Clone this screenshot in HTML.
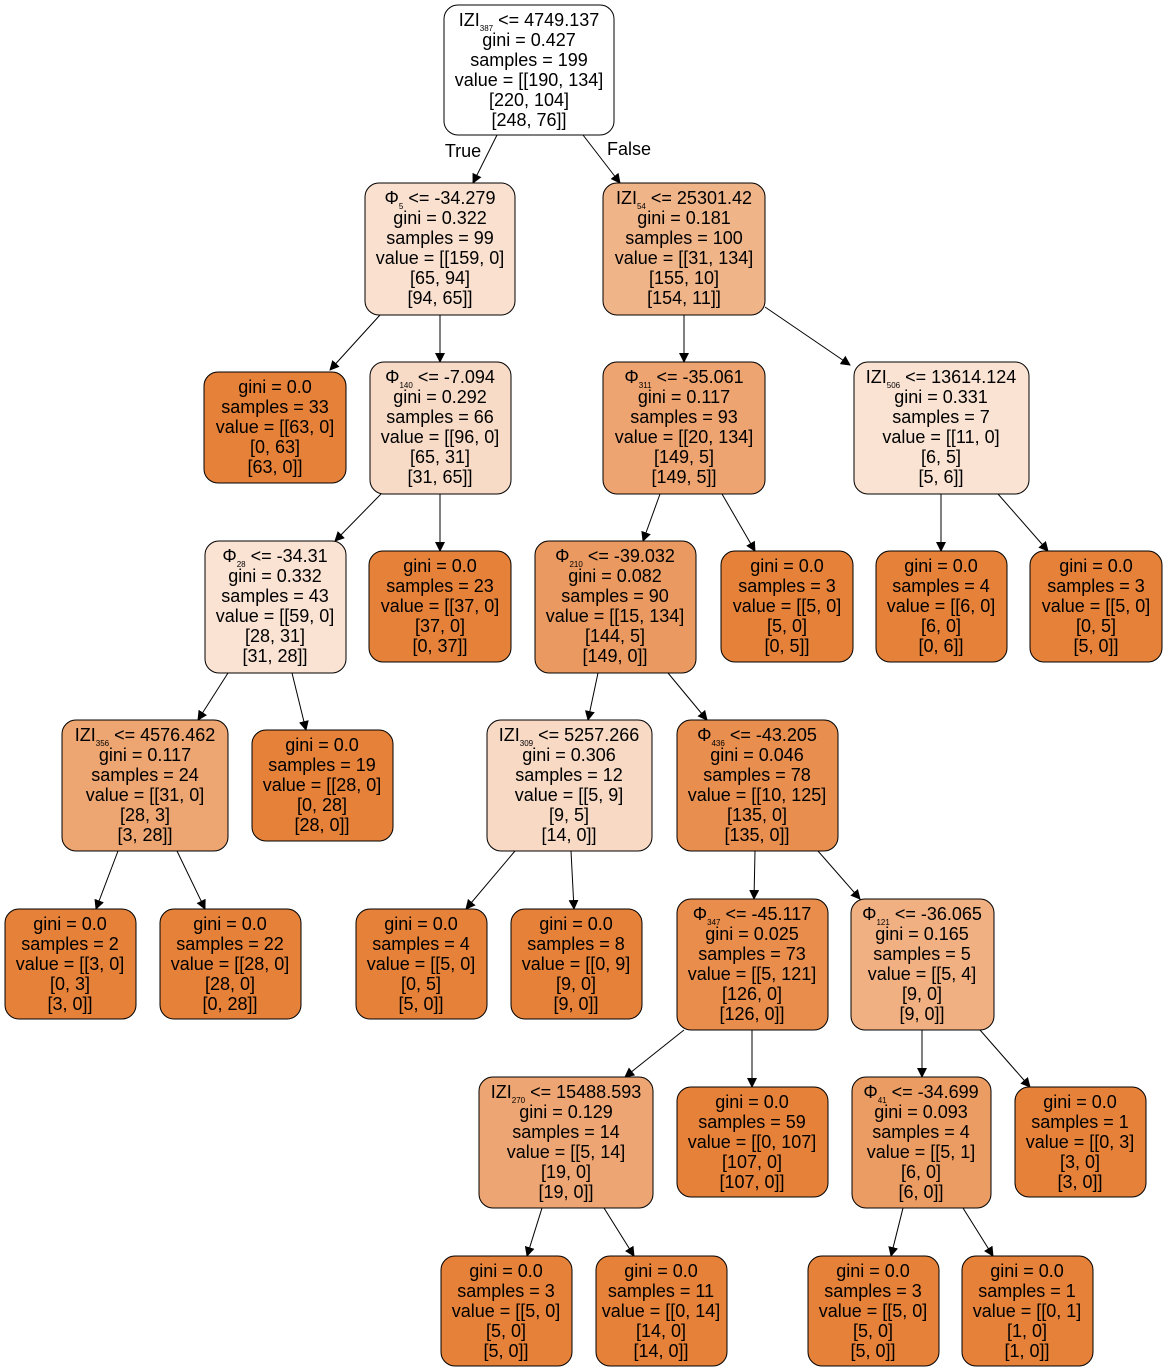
<!DOCTYPE html>
<html><head><meta charset="utf-8"><style>
html,body{margin:0;padding:0;background:#fff;}
svg{display:block;}
text{font-family:"Liberation Sans",Arial,sans-serif;font-size:18px;fill:#000;text-anchor:middle;}
.s{font-size:8px;}
rect{stroke:#000;stroke-width:1;}
line{stroke:#000;stroke-width:1;}
</style></head><body>
<svg width="1167" height="1372" viewBox="0 0 1167 1372" xmlns="http://www.w3.org/2000/svg">
<defs><marker id="a" markerWidth="10" markerHeight="10" refX="9" refY="5" orient="auto" markerUnits="userSpaceOnUse"><path d="M0,0 L10,5 L0,10 z" fill="#000"/></marker></defs>

<g marker-end="url(#a)">
<line x1="497" y1="135" x2="473" y2="183"/>
<line x1="583" y1="135" x2="620" y2="183"/>
<line x1="380" y1="315" x2="330" y2="370"/>
<line x1="440" y1="315" x2="440" y2="362"/>
<line x1="684" y1="315" x2="684" y2="362"/>
<line x1="765" y1="307" x2="850" y2="365"/>
<line x1="381" y1="494" x2="335" y2="541"/>
<line x1="440" y1="494" x2="440" y2="551"/>
<line x1="660" y1="494" x2="643" y2="541"/>
<line x1="722" y1="494" x2="755" y2="551"/>
<line x1="941" y1="494" x2="941" y2="551"/>
<line x1="998" y1="494" x2="1048" y2="551"/>
<line x1="228" y1="673" x2="198" y2="720"/>
<line x1="292" y1="673" x2="306" y2="730"/>
<line x1="598" y1="673" x2="588" y2="720"/>
<line x1="668" y1="673" x2="707" y2="720"/>
<line x1="118" y1="851" x2="96" y2="909"/>
<line x1="177" y1="851" x2="205" y2="909"/>
<line x1="515" y1="851" x2="466" y2="909"/>
<line x1="571" y1="851" x2="574" y2="909"/>
<line x1="755" y1="851" x2="754" y2="899"/>
<line x1="818" y1="851" x2="860" y2="899"/>
<line x1="684" y1="1030" x2="625" y2="1077"/>
<line x1="752" y1="1030" x2="752" y2="1087"/>
<line x1="922" y1="1030" x2="922" y2="1077"/>
<line x1="980" y1="1030" x2="1030" y2="1087"/>
<line x1="542" y1="1208" x2="527" y2="1256"/>
<line x1="604" y1="1208" x2="634" y2="1256"/>
<line x1="903" y1="1208" x2="891" y2="1256"/>
<line x1="963" y1="1208" x2="993" y2="1256"/>
</g>
<text x="463" y="157">True</text>
<text x="629" y="155">False</text>

<rect x="444" y="5" width="170" height="130" rx="14" fill="#ffffff"/>
<text x="529" y="26">IZI<tspan class="s" dy="5">387</tspan><tspan dy="-5"> &lt;= 4749.137</tspan></text>
<text x="529" y="46">gini = 0.427</text><text x="529" y="66">samples = 199</text><text x="529" y="86">value = [[190, 134]</text><text x="529" y="106">[220, 104]</text><text x="529" y="126">[248, 76]]</text>

<rect x="365" y="183" width="150" height="132" rx="14" fill="#f9e0cf"/>
<text x="440" y="204">Φ<tspan class="s" dy="5">5</tspan><tspan dy="-5"> &lt;= -34.279</tspan></text>
<text x="440" y="224">gini = 0.322</text><text x="440" y="244">samples = 99</text><text x="440" y="264">value = [[159, 0]</text><text x="440" y="284">[65, 94]</text><text x="440" y="304">[94, 65]]</text>

<rect x="603" y="183" width="162" height="132" rx="14" fill="#f0b489"/>
<text x="684" y="204">IZI<tspan class="s" dy="5">54</tspan><tspan dy="-5"> &lt;= 25301.42</tspan></text>
<text x="684" y="224">gini = 0.181</text><text x="684" y="244">samples = 100</text><text x="684" y="264">value = [[31, 134]</text><text x="684" y="284">[155, 10]</text><text x="684" y="304">[154, 11]]</text>

<rect x="204" y="372" width="142" height="111" rx="14" fill="#e58139"/>
<text x="275" y="393">gini = 0.0</text><text x="275" y="413">samples = 33</text><text x="275" y="433">value = [[63, 0]</text><text x="275" y="453">[0, 63]</text><text x="275" y="473">[63, 0]]</text>

<rect x="370" y="362" width="141" height="132" rx="14" fill="#f8dbc6"/>
<text x="440" y="383">Φ<tspan class="s" dy="5">140</tspan><tspan dy="-5"> &lt;= -7.094</tspan></text>
<text x="440" y="403">gini = 0.292</text><text x="440" y="423">samples = 66</text><text x="440" y="443">value = [[96, 0]</text><text x="440" y="463">[65, 31]</text><text x="440" y="483">[31, 65]]</text>

<rect x="603" y="362" width="162" height="132" rx="14" fill="#eda470"/>
<text x="684" y="383">Φ<tspan class="s" dy="5">311</tspan><tspan dy="-5"> &lt;= -35.061</tspan></text>
<text x="684" y="403">gini = 0.117</text><text x="684" y="423">samples = 93</text><text x="684" y="443">value = [[20, 134]</text><text x="684" y="463">[149, 5]</text><text x="684" y="483">[149, 5]]</text>

<rect x="854" y="362" width="175" height="132" rx="14" fill="#fae3d3"/>
<text x="941" y="383">IZI<tspan class="s" dy="5">506</tspan><tspan dy="-5"> &lt;= 13614.124</tspan></text>
<text x="941" y="403">gini = 0.331</text><text x="941" y="423">samples = 7</text><text x="941" y="443">value = [[11, 0]</text><text x="941" y="463">[6, 5]</text><text x="941" y="483">[5, 6]]</text>

<rect x="205" y="541" width="141" height="132" rx="14" fill="#fae3d3"/>
<text x="275" y="562">Φ<tspan class="s" dy="5">28</tspan><tspan dy="-5"> &lt;= -34.31</tspan></text>
<text x="275" y="582">gini = 0.332</text><text x="275" y="602">samples = 43</text><text x="275" y="622">value = [[59, 0]</text><text x="275" y="642">[28, 31]</text><text x="275" y="662">[31, 28]]</text>

<rect x="369" y="551" width="142" height="111" rx="14" fill="#e58139"/>
<text x="440" y="572">gini = 0.0</text><text x="440" y="592">samples = 23</text><text x="440" y="612">value = [[37, 0]</text><text x="440" y="632">[37, 0]</text><text x="440" y="652">[0, 37]]</text>

<rect x="535" y="541" width="161" height="132" rx="14" fill="#ea9a60"/>
<text x="615" y="562">Φ<tspan class="s" dy="5">210</tspan><tspan dy="-5"> &lt;= -39.032</tspan></text>
<text x="615" y="582">gini = 0.082</text><text x="615" y="602">samples = 90</text><text x="615" y="622">value = [[15, 134]</text><text x="615" y="642">[144, 5]</text><text x="615" y="662">[149, 0]]</text>

<rect x="721" y="551" width="132" height="111" rx="14" fill="#e58139"/>
<text x="787" y="572">gini = 0.0</text><text x="787" y="592">samples = 3</text><text x="787" y="612">value = [[5, 0]</text><text x="787" y="632">[5, 0]</text><text x="787" y="652">[0, 5]]</text>

<rect x="876" y="551" width="131" height="111" rx="14" fill="#e58139"/>
<text x="941" y="572">gini = 0.0</text><text x="941" y="592">samples = 4</text><text x="941" y="612">value = [[6, 0]</text><text x="941" y="632">[6, 0]</text><text x="941" y="652">[0, 6]]</text>

<rect x="1030" y="551" width="132" height="111" rx="14" fill="#e58139"/>
<text x="1096" y="572">gini = 0.0</text><text x="1096" y="592">samples = 3</text><text x="1096" y="612">value = [[5, 0]</text><text x="1096" y="632">[0, 5]</text><text x="1096" y="652">[5, 0]]</text>

<rect x="62" y="720" width="166" height="131" rx="14" fill="#eda571"/>
<text x="145" y="741">IZI<tspan class="s" dy="5">356</tspan><tspan dy="-5"> &lt;= 4576.462</tspan></text>
<text x="145" y="761">gini = 0.117</text><text x="145" y="781">samples = 24</text><text x="145" y="801">value = [[31, 0]</text><text x="145" y="821">[28, 3]</text><text x="145" y="841">[3, 28]]</text>

<rect x="252" y="730" width="141" height="111" rx="14" fill="#e58139"/>
<text x="322" y="751">gini = 0.0</text><text x="322" y="771">samples = 19</text><text x="322" y="791">value = [[28, 0]</text><text x="322" y="811">[0, 28]</text><text x="322" y="831">[28, 0]]</text>

<rect x="487" y="720" width="165" height="131" rx="14" fill="#f7d9c4"/>
<text x="569" y="741">IZI<tspan class="s" dy="5">309</tspan><tspan dy="-5"> &lt;= 5257.266</tspan></text>
<text x="569" y="761">gini = 0.306</text><text x="569" y="781">samples = 12</text><text x="569" y="801">value = [[5, 9]</text><text x="569" y="821">[9, 5]</text><text x="569" y="841">[14, 0]]</text>

<rect x="677" y="720" width="161" height="131" rx="14" fill="#e88f50"/>
<text x="757" y="741">Φ<tspan class="s" dy="5">436</tspan><tspan dy="-5"> &lt;= -43.205</tspan></text>
<text x="757" y="761">gini = 0.046</text><text x="757" y="781">samples = 78</text><text x="757" y="801">value = [[10, 125]</text><text x="757" y="821">[135, 0]</text><text x="757" y="841">[135, 0]]</text>

<rect x="5" y="909" width="131" height="110" rx="14" fill="#e58139"/>
<text x="70" y="930">gini = 0.0</text><text x="70" y="950">samples = 2</text><text x="70" y="970">value = [[3, 0]</text><text x="70" y="990">[0, 3]</text><text x="70" y="1010">[3, 0]]</text>

<rect x="160" y="909" width="141" height="110" rx="14" fill="#e58139"/>
<text x="230" y="930">gini = 0.0</text><text x="230" y="950">samples = 22</text><text x="230" y="970">value = [[28, 0]</text><text x="230" y="990">[28, 0]</text><text x="230" y="1010">[0, 28]]</text>

<rect x="356" y="909" width="131" height="110" rx="14" fill="#e58139"/>
<text x="421" y="930">gini = 0.0</text><text x="421" y="950">samples = 4</text><text x="421" y="970">value = [[5, 0]</text><text x="421" y="990">[0, 5]</text><text x="421" y="1010">[5, 0]]</text>

<rect x="511" y="909" width="131" height="110" rx="14" fill="#e58139"/>
<text x="576" y="930">gini = 0.0</text><text x="576" y="950">samples = 8</text><text x="576" y="970">value = [[0, 9]</text><text x="576" y="990">[9, 0]</text><text x="576" y="1010">[9, 0]]</text>

<rect x="677" y="899" width="151" height="131" rx="14" fill="#e88d4c"/>
<text x="752" y="920">Φ<tspan class="s" dy="5">347</tspan><tspan dy="-5"> &lt;= -45.117</tspan></text>
<text x="752" y="940">gini = 0.025</text><text x="752" y="960">samples = 73</text><text x="752" y="980">value = [[5, 121]</text><text x="752" y="1000">[126, 0]</text><text x="752" y="1020">[126, 0]]</text>

<rect x="851" y="899" width="143" height="131" rx="14" fill="#f0b082"/>
<text x="922" y="920">Φ<tspan class="s" dy="5">121</tspan><tspan dy="-5"> &lt;= -36.065</tspan></text>
<text x="922" y="940">gini = 0.165</text><text x="922" y="960">samples = 5</text><text x="922" y="980">value = [[5, 4]</text><text x="922" y="1000">[9, 0]</text><text x="922" y="1020">[9, 0]]</text>

<rect x="479" y="1077" width="174" height="131" rx="14" fill="#eda673"/>
<text x="566" y="1098">IZI<tspan class="s" dy="5">270</tspan><tspan dy="-5"> &lt;= 15488.593</tspan></text>
<text x="566" y="1118">gini = 0.129</text><text x="566" y="1138">samples = 14</text><text x="566" y="1158">value = [[5, 14]</text><text x="566" y="1178">[19, 0]</text><text x="566" y="1198">[19, 0]]</text>

<rect x="677" y="1087" width="151" height="110" rx="14" fill="#e58139"/>
<text x="752" y="1108">gini = 0.0</text><text x="752" y="1128">samples = 59</text><text x="752" y="1148">value = [[0, 107]</text><text x="752" y="1168">[107, 0]</text><text x="752" y="1188">[107, 0]]</text>

<rect x="852" y="1077" width="139" height="131" rx="14" fill="#eb9c63"/>
<text x="921" y="1098">Φ<tspan class="s" dy="5">41</tspan><tspan dy="-5"> &lt;= -34.699</tspan></text>
<text x="921" y="1118">gini = 0.093</text><text x="921" y="1138">samples = 4</text><text x="921" y="1158">value = [[5, 1]</text><text x="921" y="1178">[6, 0]</text><text x="921" y="1198">[6, 0]]</text>

<rect x="1015" y="1087" width="131" height="110" rx="14" fill="#e58139"/>
<text x="1080" y="1108">gini = 0.0</text><text x="1080" y="1128">samples = 1</text><text x="1080" y="1148">value = [[0, 3]</text><text x="1080" y="1168">[3, 0]</text><text x="1080" y="1188">[3, 0]]</text>

<rect x="441" y="1256" width="131" height="110" rx="14" fill="#e58139"/>
<text x="506" y="1277">gini = 0.0</text><text x="506" y="1297">samples = 3</text><text x="506" y="1317">value = [[5, 0]</text><text x="506" y="1337">[5, 0]</text><text x="506" y="1357">[5, 0]]</text>

<rect x="596" y="1256" width="131" height="110" rx="14" fill="#e58139"/>
<text x="661" y="1277">gini = 0.0</text><text x="661" y="1297">samples = 11</text><text x="661" y="1317">value = [[0, 14]</text><text x="661" y="1337">[14, 0]</text><text x="661" y="1357">[14, 0]]</text>

<rect x="808" y="1256" width="131" height="110" rx="14" fill="#e58139"/>
<text x="873" y="1277">gini = 0.0</text><text x="873" y="1297">samples = 3</text><text x="873" y="1317">value = [[5, 0]</text><text x="873" y="1337">[5, 0]</text><text x="873" y="1357">[5, 0]]</text>

<rect x="962" y="1256" width="131" height="110" rx="14" fill="#e58139"/>
<text x="1027" y="1277">gini = 0.0</text><text x="1027" y="1297">samples = 1</text><text x="1027" y="1317">value = [[0, 1]</text><text x="1027" y="1337">[1, 0]</text><text x="1027" y="1357">[1, 0]]</text>
</svg>
</body></html>
